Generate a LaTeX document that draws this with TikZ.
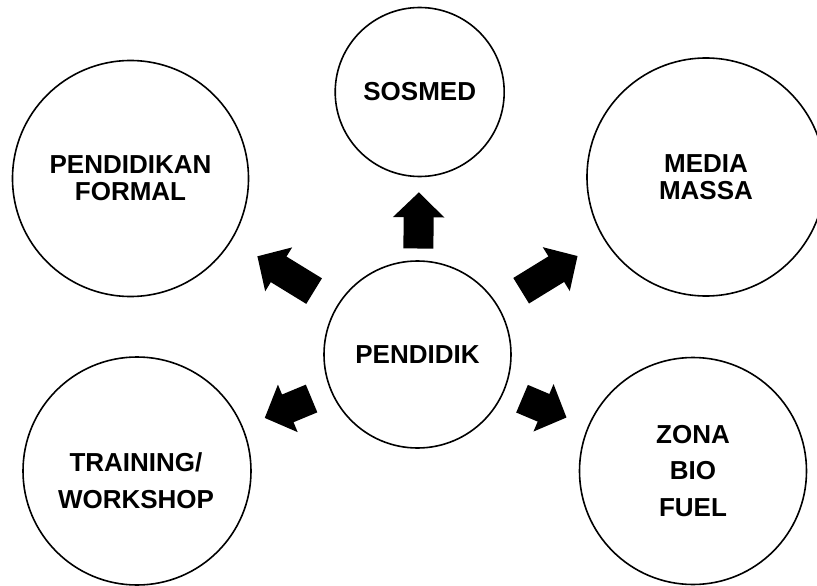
\documentclass[tikz,border=0pt]{standalone}
\usepackage{fontspec}
\setmainfont{Liberation Sans}
\usetikzlibrary{arrows.meta}

\begin{document}
\begin{tikzpicture}[x=1pt,y=-1pt,
  bubble/.style={draw,circle,line width=1.6pt,inner sep=0pt,align=center,
    font=\bfseries\fontsize{26}{27}\selectfont},
  widebubble/.style={bubble,font=\bfseries\fontsize{26}{36.7}\selectfont},
  widetext/.style={align=center,inner sep=0pt,font=\bfseries\fontsize{26}{36.7}\selectfont},
  fatarrow/.style={line width=30pt,-{Triangle[length=25pt,width=50pt]}}]
\useasboundingbox (0,0) rectangle (817,586);

%---------------------------------------------------
%centre
\node[bubble,minimum size=187pt] (pendidik) at (417.5,354.5) {PENDIDIK};

%---------------------------------------------------
%outer circles
\node[bubble,minimum size=169pt] (sosmed)   at (419.7,92)    {SOSMED};
\node[bubble,minimum size=236pt] (formal)   at (130.5,178.5) {PENDIDIKAN\\FORMAL};
\node[bubble,minimum size=238pt] (media)    at (706,177)     {MEDIA\\MASSA};
\node[bubble,minimum size=228pt] (training) at (137,471)     {};
\node[widetext] (trainingtext) at (136,480.5) {TRAINING/\\WORKSHOP};
\node[widebubble,minimum size=227pt] (zona)     at (693,471) {ZONA\\BIO\\FUEL};

%---------------------------------------------------
%block arrows
\draw[fatarrow,shorten <=11.7pt,shorten >=15pt] (pendidik) -- (sosmed);
\draw[fatarrow,shorten <=27pt,shorten >=30pt]   (pendidik) -- (formal);
\draw[fatarrow,shorten <=27.4pt,shorten >=31pt] (pendidik) -- (media);
\draw[fatarrow,shorten <=20.4pt,shorten >=23.5pt] (pendidik) -- (training);
\draw[fatarrow,shorten <=19.2pt,shorten >=23pt] (pendidik) -- (zona);

\end{tikzpicture}
\end{document}
